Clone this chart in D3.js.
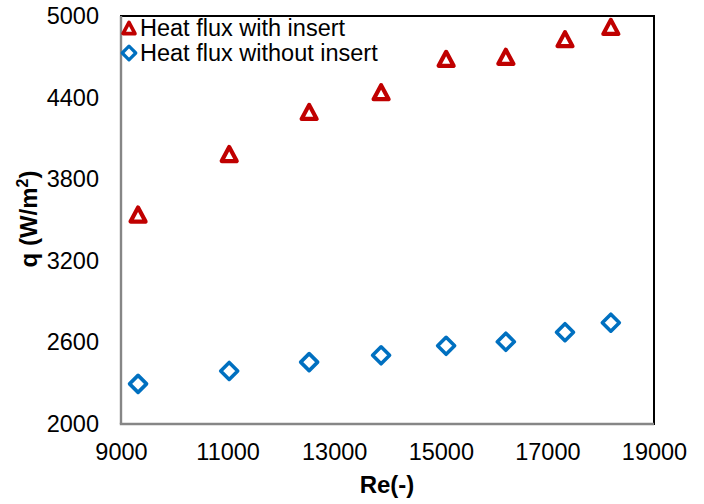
<!DOCTYPE html>
<html>
<head>
<meta charset="utf-8">
<script src="https://cdn.jsdelivr.net/npm/d3@7"></script>
<style>
  html, body { margin: 0; padding: 0; background: #fff; }
  svg { display: block; }
  text { font-family: "Liberation Sans", Arial, sans-serif; fill: #000; }
</style>
</head>
<body>
<div id="chart"></div>
<script>
// ---- data ----
const reynolds = [9320, 11030, 12530, 13880, 15100, 16220, 17330, 18190];
const heatFluxWithInsert = [3540, 3985, 4295, 4440, 4685, 4700, 4830, 4920];
const heatFluxWithoutInsert = [2295, 2390, 2455, 2505, 2575, 2605, 2675, 2745];
const xTicks = [9000, 11000, 13000, 15000, 17000, 19000];
const yTicks = [2000, 2600, 3200, 3800, 4400, 5000];
const seriesNames = ["Heat flux with insert", "Heat flux without insert"];

const W = 704, H = 504;
const svg = d3.select("#chart").append("svg").attr("width", W).attr("height", H);

const x = d3.scaleLinear().domain([9000, 19000]).range([121, 654]);
const y = d3.scaleLinear().domain([2000, 5000]).range([424, 16]);

// plot area border
svg.append("rect")
  .attr("x", x(9000)).attr("y", y(5000))
  .attr("width", x(19000) - x(9000)).attr("height", y(2000) - y(5000))
  .attr("fill", "none").attr("stroke", "#000").attr("stroke-width", 2);

// axes
const yAxis = svg.append("g").attr("transform", `translate(${x(9000)},0)`)
  .call(d3.axisLeft(y).tickValues(yTicks).tickSize(0).tickPadding(22).tickFormat(d3.format("d")));
const xAxis = svg.append("g").attr("transform", `translate(0,${y(2000)})`)
  .call(d3.axisBottom(x).tickValues(xTicks).tickSize(0).tickPadding(19).tickFormat(d3.format("d")));
[xAxis, yAxis].forEach(g => {
  g.select(".domain").remove();
  g.selectAll("text").attr("font-size", 23.5).attr("font-family", '"Liberation Sans", Arial, sans-serif').attr("fill", "#000");
});

// gray axis lines
svg.append("line").attr("x1", x(9000)).attr("x2", x(9000)).attr("y1", y(5000)).attr("y2", y(2000))
  .attr("stroke", "#868686").attr("stroke-width", 2.4);
svg.append("line").attr("x1", x(9000) - 1.2).attr("x2", x(19000)).attr("y1", y(2000)).attr("y2", y(2000))
  .attr("stroke", "#868686").attr("stroke-width", 2.4);

// marker shapes
const triPath = (s) => `M0,${-7 * s}L${7.5 * s},${7 * s}L${-7.5 * s},${7 * s}Z`;
const diaPath = (s) => `M0,${-8.5 * s}L${8.5 * s},0L0,${8.5 * s}L${-8.5 * s},0Z`;
const red = "#C00000", blue = "#0070C0";

svg.append("g").selectAll("path").data(reynolds).join("path")
  .attr("transform", (d, i) => `translate(${x(d)},${y(heatFluxWithoutInsert[i])})`)
  .attr("d", diaPath(1)).attr("fill", "#fff").attr("stroke", blue)
  .attr("stroke-width", 3.6).attr("stroke-linejoin", "round");

svg.append("g").selectAll("path").data(reynolds).join("path")
  .attr("transform", (d, i) => `translate(${x(d)},${y(heatFluxWithInsert[i])})`)
  .attr("d", triPath(1)).attr("fill", "#fff").attr("stroke", red)
  .attr("stroke-width", 4.2).attr("stroke-linejoin", "round");

// legend
const leg = svg.append("g");
leg.append("path").attr("transform", "translate(129,28)").attr("d", triPath(0.8))
  .attr("fill", "#fff").attr("stroke", red).attr("stroke-width", 3.6).attr("stroke-linejoin", "round");
leg.append("path").attr("transform", "translate(129,53)").attr("d", diaPath(0.8))
  .attr("fill", "#fff").attr("stroke", blue).attr("stroke-width", 3.2).attr("stroke-linejoin", "round");
leg.selectAll("text").data(seriesNames).join("text")
  .attr("x", 140).attr("y", (d, i) => 28 + i * 25).attr("dy", "0.36em")
  .attr("font-size", 23.5).text(d => d);

// axis titles
svg.append("text").attr("x", 387).attr("y", 493).attr("text-anchor", "middle")
  .attr("font-size", 24).attr("font-weight", "bold").text("Re(-)");
const yt = svg.append("text").attr("transform", "translate(37,219) rotate(-90)").attr("text-anchor", "middle")
  .attr("font-size", 24).attr("font-weight", "bold");
yt.append("tspan").text("q (W/m");
yt.append("tspan").attr("font-size", 16).attr("dy", -9).text("2");
yt.append("tspan").attr("dy", 9).text(")");
</script>
</body>
</html>
